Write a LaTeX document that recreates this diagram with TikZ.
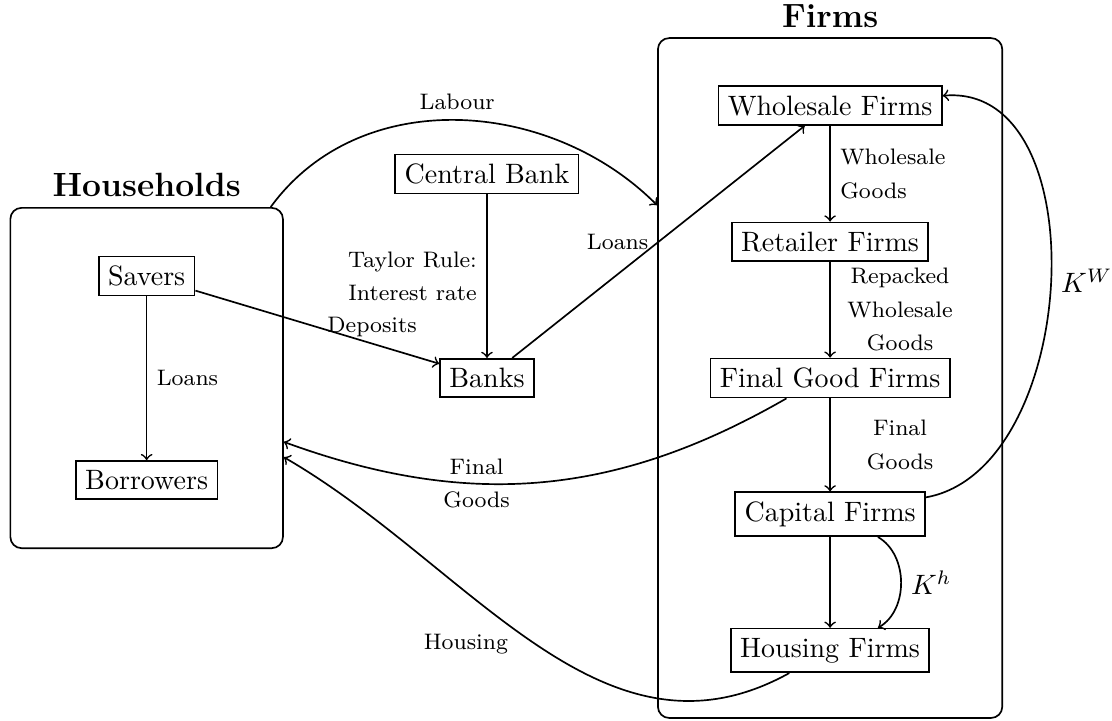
\documentclass[tikz,border=0pt]{standalone}
\usepackage{tikz}
\usetikzlibrary{positioning}
\tikzset{
  agent/.style ={draw, semithick},
  sector/.style={draw, semithick, rounded corners},
  head/.style  ={font=\large\bfseries},
  lbl/.style   ={font=\fontsize{8}{12}\selectfont},
  wlbl/.style  ={lbl, text width=1.5cm, align=center},
  flow/.style  ={->, semithick},
}

\begin{document}
\begin{tikzpicture}
  \useasboundingbox (0,-4.291) rectangle (13.952,4.743);

  % ---- households ---------------------------------------------------------
  \node[sector, minimum width=3.42cm, minimum height=4.27cm] (households) at (1.84,0) {};
  \node[head, above=0pt of households] (hhtitle) {Households};
  \node[agent] (savers) at (1.84,1.28) {Savers};
  \node[agent] (borrowers) at (1.84,-1.28) {Borrowers};

  % ---- banking ------------------------------------------------------------
  \node[agent] (centralbank) at (6.11,2.56) {Central Bank};
  \node[agent] (banks) at (6.11,0) {Banks};

  % ---- firms --------------------------------------------------------------
  \node[sector, minimum width=4.32cm, minimum height=8.53cm] (firms) at (10.415,0) {};
  \node[head, above=0pt of firms] (firmstitle) {Firms};
  \node[agent] (wholesale) at (10.415,3.418) {Wholesale Firms};
  \node[agent] (retailer) at (10.415,1.709) {Retailer Firms};
  \node[agent] (finalgood) at (10.415,0) {Final Good Firms};
  \node[agent] (capital) at (10.415,-1.709) {Capital Firms};
  \node[agent] (housing) at (10.415,-3.418) {Housing Firms};

  % ---- flows --------------------------------------------------------------
  \draw[flow] (savers) -- node[lbl, right] {Loans} (borrowers);
  \draw[flow] (savers) -- node[lbl, right] {Deposits} (banks);
  \draw[flow] (centralbank) -- node[lbl, left, align=right] {Taylor Rule:\\Interest rate} (banks);
  \draw[flow] (banks) -- node[lbl, left] {Loans} (wholesale);
  \draw[flow] (households) to[out=54, in=135] node[lbl, above] {Labour} (firms);

  \draw[flow] (wholesale) -- node[lbl, right, align=left] {Wholesale\\Goods} (retailer);
  \draw[flow] (retailer) -- node[wlbl, right] {Repacked\\Wholesale\\Goods} (finalgood);
  \draw[flow] (finalgood) -- node[wlbl, right] {Final\\Goods} (capital);
  \draw[flow] (capital) -- (housing);
  \draw[flow] ([xshift=0.6cm]capital.south) to[out=-30, in=30]
    node[right] {$K^h$} ([xshift=0.6cm]housing.north);
  \draw[flow] (capital) to[out=10, in=5] node[right] {$K^W$} (wholesale);

  % back to the households
  \draw[flow] (finalgood) to[bend left=25]
    node[lbl, pos=0.63, align=center] {Final\\Goods} (households);
  \draw[flow] (housing) to[out=209, in=-30]
    node[wlbl, left] {Housing} (households);
\end{tikzpicture}
\end{document}
